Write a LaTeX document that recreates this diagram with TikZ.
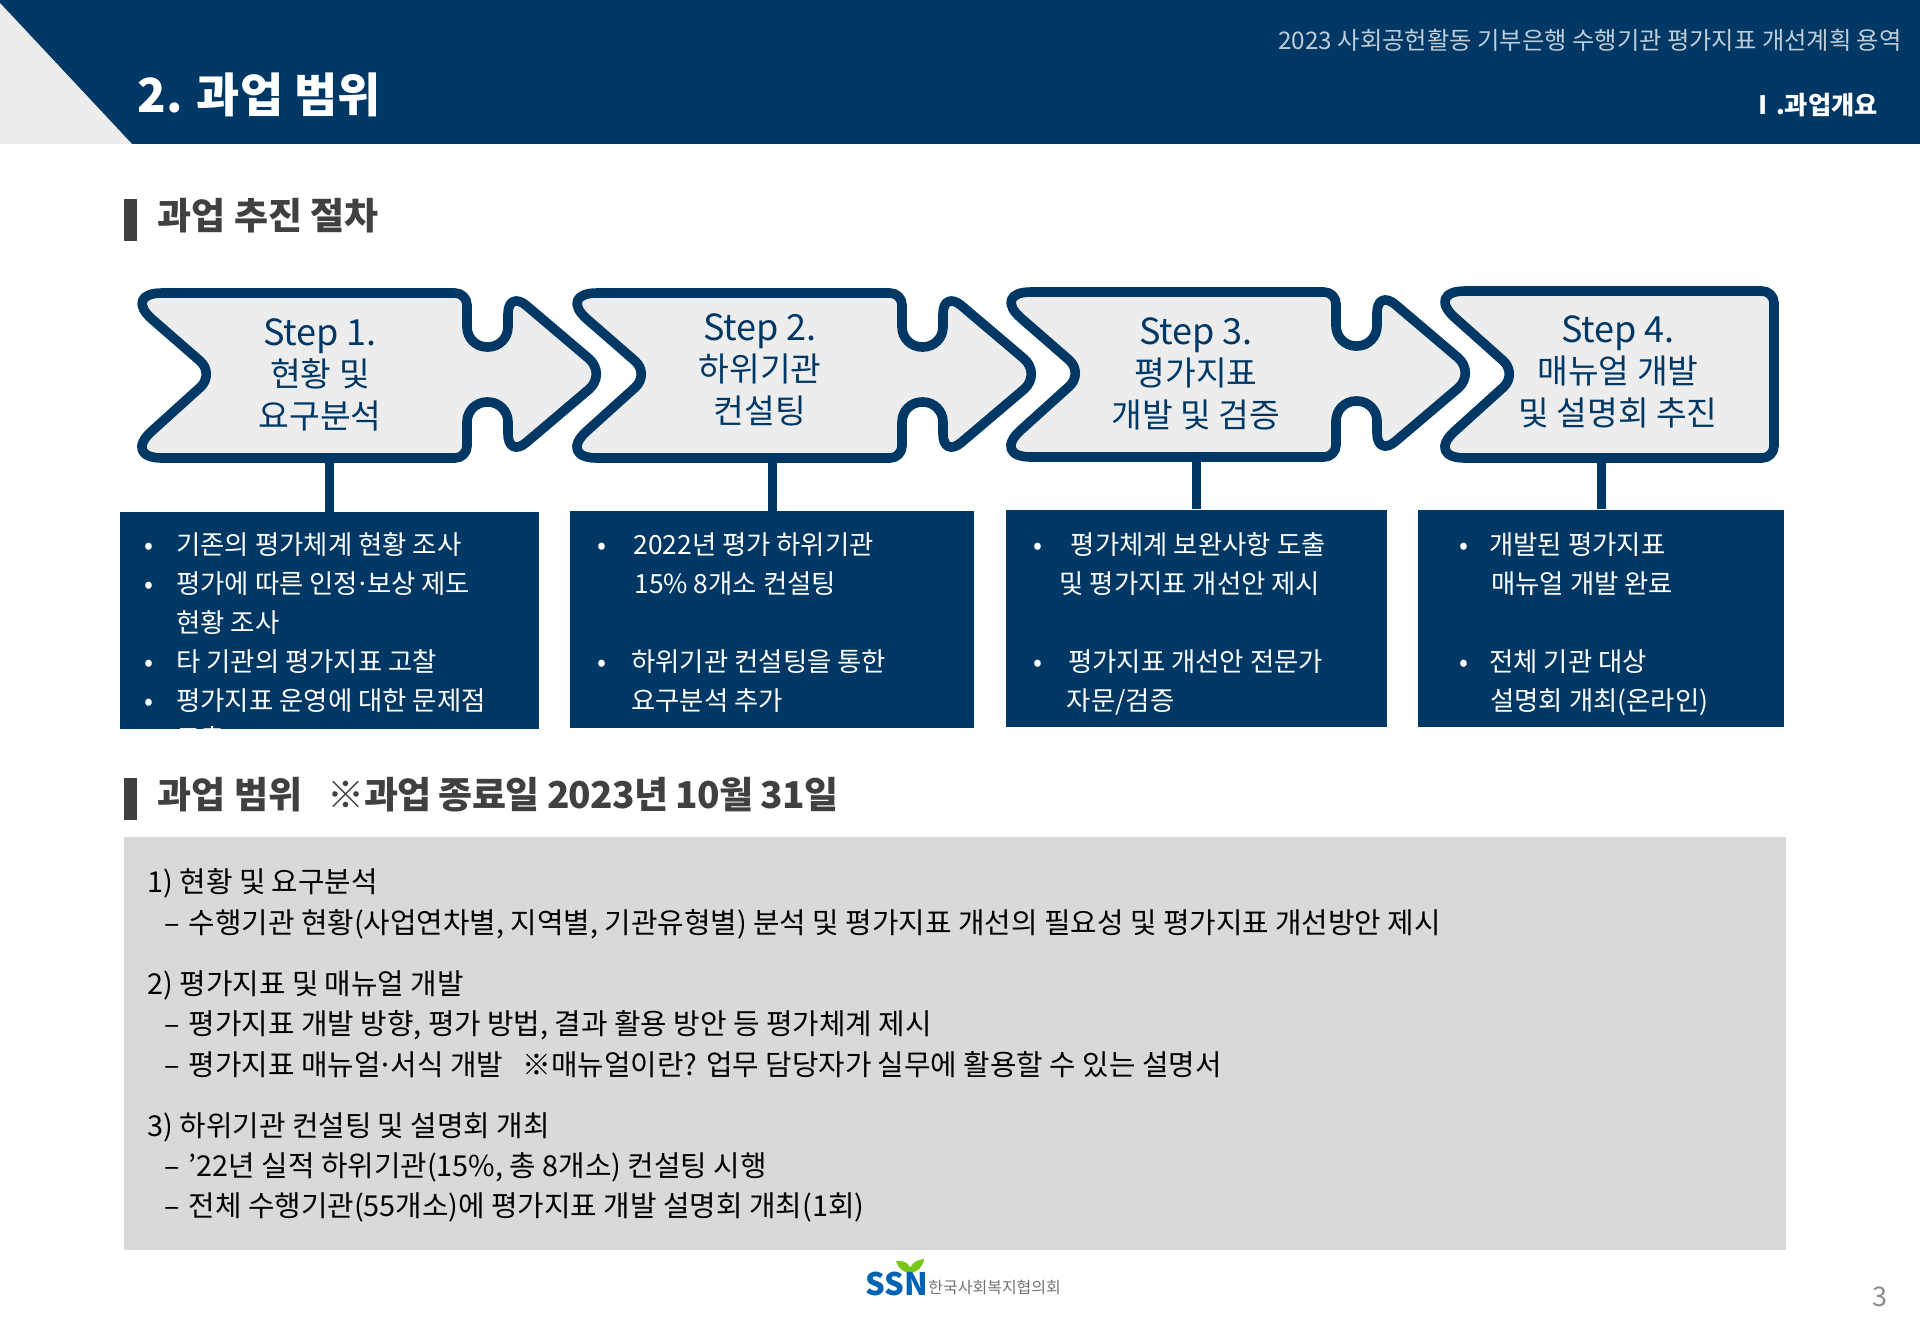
\documentclass[tikz,border=0pt]{standalone}
\usepackage{fontspec}
\setmainfont{Noto Sans CJK KR}
\usetikzlibrary{positioning}
\definecolor{navy}{HTML}{003865}
\definecolor{paleback}{HTML}{EDEDED}
\definecolor{scopeback}{HTML}{D9D9D9}
\definecolor{headgray}{HTML}{404040}
\newcommand{\bul}[2][18.5pt]{\makebox[#1][l]{•}#2}
\newcommand{\mdot}{\kern-1.5pt·\kern-1.5pt}
\newcommand{\steptop}[1]{{\fontsize{18}{20.7}\selectfont #1}}
\newcommand{\dashgap}{\hspace*{8.5pt}–\hspace{1.2pt} }

\begin{document}
\begin{tikzpicture}[
  x=0.5pt, y=-0.5pt,
  node distance=4pt and 8pt,
  stepline/.style={draw=navy, fill=paleback, line width=4.8pt, line join=round},
  steplabel/.style={text=navy, align=center, inner sep=0pt, font=\fontsize{16.7}{20.7}\selectfont},
  infobox/.style={fill=navy, inner sep=0pt, minimum height=108.5pt},
  infotext/.style={text=white, align=left, inner sep=0pt, anchor=north west, font=\fontsize{13.2}{19.5}\selectfont},
  stem/.style={draw=navy, line width=4.5pt},
  headbar/.style={fill=headgray, inner sep=0pt, minimum width=6.5pt, minimum height=21pt},
  headtext/.style={text=headgray, inner sep=0pt, font=\fontsize{18.5}{22}\selectfont\bfseries},
  piece/.pic={
    \draw[stepline, rounded corners=6pt] (300,293) -- (467,293) [rounded corners=10pt] -- (467,347) -- (508,347) [rounded corners=12pt] -- (508,290) -- (607,374) -- (508,458) [rounded corners=10pt] -- (508,402) -- (467,402) [rounded corners=6pt] -- (467,458) [rounded corners=20pt] -- (122,458) [rounded corners=10pt] -- (215,374) [rounded corners=20pt] -- (122,293) [rounded corners=6pt] -- cycle;
  }
]
\useasboundingbox (0,0) rectangle (1920,1329);

% header
\fill[navy] (0,0) rectangle (1920,144);
\fill[paleback] (0,3) -- (132,144) -- (0,144) -- cycle;
\node[anchor=west, text=white, inner sep=0pt, font=\fontsize{23.5}{28}\selectfont\bfseries] (title) at (137,95) {2. 과업 범위};
\node[anchor=east, text=white!75!navy, inner sep=0pt, font=\fontsize{12.15}{15}\selectfont] (project) at (1902,40) {2023 사회공헌활동 기부은행 수행기관 평가지표 개선계획 용역};
\node[anchor=east, text=white, inner sep=0pt, font=\fontsize{12.6}{15}\selectfont\bfseries] (part) at (1878,105) {Ⅰ.과업개요};

% first heading
\node[headbar] (bar1) at (130.5,220) {};
\node[headtext, right=of bar1, xshift=2pt, yshift=2pt] (head1) {과업 추진 절차};

% info boxes
\node[infobox, minimum width=209.5pt] (info1) at (329.5,620.5) {};
\node[infobox, minimum width=202pt] (info2) at (772,619.5) {};
\node[infobox, minimum width=190.5pt] (info3) at (1196.5,618) {};
\node[infobox, minimum width=183pt] (info4) at (1601,618) {};

% stems
\coordinate (top1) at (329.5,450);
\coordinate (top2) at (772,450);
\coordinate (top3) at (1196.5,450);
\coordinate (top4) at (1601,450);
\draw[stem] (info1.north) -- (top1);
\draw[stem] (info2.north) -- (top2);
\draw[stem] (info3.north) -- (top3);
\draw[stem] (info4.north) -- (top4);

% step shapes
\pic (piece1) at (0,0) {piece};
\pic (piece2) at (435,0) {piece};
\pic (piece3) at (869,-1) {piece};
\draw[stepline, rounded corners=6pt] (1600,291) -- (1774,291) -- (1774,458) [rounded corners=20pt] -- (1425,458) [rounded corners=10pt] -- (1518,374) [rounded corners=20pt] -- (1425,291) [rounded corners=6pt] -- cycle;

\node[steplabel] (step1) at (320,374.5) {\steptop{Step 1.}\\현황 및\\요구분석};
\node[steplabel] (step2) at (760,369.5) {\steptop{Step 2.}\\하위기관\\컨설팅};
\node[steplabel] (step3) at (1196,373.5) {\steptop{Step 3.}\\평가지표\\개발 및 검증};
\node[steplabel] (step4) at (1618,371.5) {\steptop{Step 4.}\\매뉴얼 개발\\및 설명회 추진};

% box texts
\begin{scope}
\clip (info1.south west) rectangle (info1.north east);
\node[infotext] (text1) at (144,532.5) {\bul[16pt]{기존의 평가체계 현황 조사}\\\bul[16pt]{평가에 따른 인정\mdot 보상 제도}\\\hspace*{16pt}현황 조사\\\bul[16pt]{타 기관의 평가지표 고찰}\\\bul[16pt]{평가지표 운영에 대한 문제점}\\[-0.8pt]\hspace*{16pt}도출};
\end{scope}
\node[infotext] (text2) at (597,532.5) {\bul[18pt]{2022년 평가 하위기관}\\\hspace*{18.5pt}15\% 8개소 컨설팅\\~\\\bul[17pt]{하위기관 컨설팅을 통한}\\\hspace*{17pt}요구분석 추가};
\node[infotext] (text3) at (1033.5,532.5) {\bul{평가체계 보완사항 도출}\\\hspace*{12.8pt}및 평가지표 개선안 제시\\~\\\bul[17.2pt]{평가지표 개선안 전문가}\\\hspace*{16.5pt}자문/검증};
\node[infotext] (text4) at (1459,532.5) {\bul[15pt]{개발된 평가지표}\\\hspace*{16pt}매뉴얼 개발 완료\\~\\\bul[15pt]{전체 기관 대상}\\\hspace*{15.5pt}설명회 개최(온라인)};

% second heading
\node[headbar] (bar2) at (130.5,798.5) {};
\node[headtext, right=of bar2, xshift=2pt, yshift=2pt] (head2) {과업 범위 \ \ {\addfontfeature{LetterSpace=-2.2}※과업 종료일 2023년 10월 31일}};

% scope panel
\node[fill=scopeback, inner sep=0pt, minimum width=831pt, minimum height=206.5pt] (panel) at (955,1043.5) {};
\node[anchor=north west, align=left, inner sep=0pt, font=\fontsize{14.4}{20.2}\selectfont] (scope) at (147,868.5) {1) 현황 및 요구분석\\
\dashgap 수행기관 현황(사업연차별, 지역별, 기관유형별) 분석 및 평가지표 개선의 필요성 및 평가지표 개선방안 제시\\[10.3pt]
2) 평가지표 및 매뉴얼 개발\\
\dashgap 평가지표 개발 방향, 평가 방법, 결과 활용 방안 등 평가체계 제시\\
\dashgap 평가지표 매뉴얼\mdot 서식 개발 \ \ ※매뉴얼이란? 업무 담당자가 실무에 활용할 수 있는 설명서\\[10.3pt]
3) 하위기관 컨설팅 및 설명회 개최\\
\dashgap ’22년 실적 하위기관(15\%, 총 8개소) 컨설팅 시행\\
\dashgap 전체 수행기관(55개소)에 평가지표 개발 설명회 개최(1회)};

% footer
\fill[green!45!yellow!75!black!90] (896,1261) .. controls (906,1260) and (911,1265) .. (912,1273) .. controls (903,1273) and (898,1268) .. (896,1261) -- cycle;
\fill[green!45!yellow!75!black!90] (924,1259) .. controls (915,1260) and (909,1265) .. (909,1273) .. controls (918,1272) and (923,1267) .. (924,1259) -- cycle;
\node[anchor=west, text=blue!45!cyan!70!black, inner sep=0pt, font=\fontsize{15.5}{18}\selectfont\bfseries] (ssn) at (865,1284) {SSN};
\node[anchor=west, text=black!55, inner sep=0pt, font=\fontsize{8}{10}\selectfont] (org) at (928,1287) {한국사회복지협의회};
\node[text=black!45, inner sep=0pt, font=\fontsize{13.5}{16}\selectfont] (page) at (1880,1297) {3};
\end{tikzpicture}
\end{document}
